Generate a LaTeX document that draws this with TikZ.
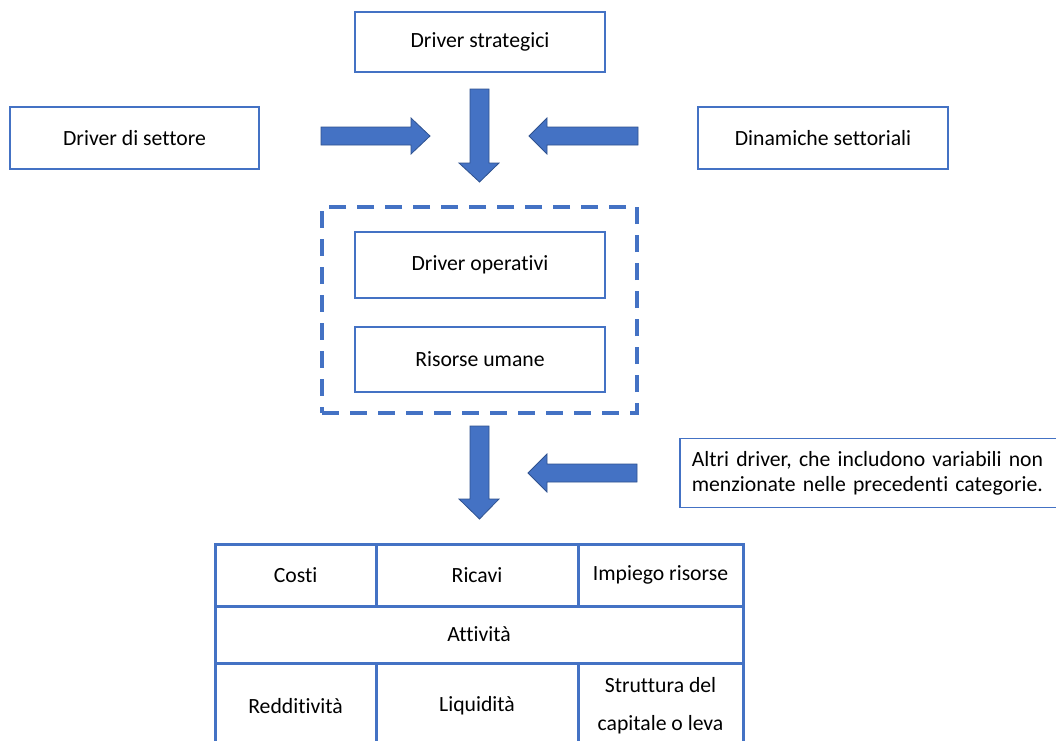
\documentclass[tikz,border=0pt]{standalone}
\usepackage{fontspec}
\setmainfont{Carlito}[Ligatures=NoCommon]
\definecolor{blu}{HTML}{4472C4}
\definecolor{bluedge}{HTML}{2F528F}

\begin{document}
\begin{tikzpicture}[x=1pt, y=-1pt,
	every node/.style={font=\fontsize{21.7}{25}\selectfont},
	box/.style={draw=blu, line width=1.5pt, minimum width=250pt, minimum height=62pt, inner sep=0pt},
	cell/.style={draw=blu, line width=3pt, inner sep=0pt},
	groupbox/.style={draw=blu, line width=4pt, dash pattern=on 17pt off 11pt, minimum width=315pt, minimum height=206pt},
	blkarrow/.style={fill=blu, draw=bluedge, line width=0.8pt, line join=miter}]
	\clip (0,0) rectangle (1056,740);
	\fill[white] (0,0) rectangle (1056,740);
	% caselle in alto
	\node[box, minimum height=60pt] (strat) at (480,42) {Driver strategici};
	\node[box, minimum width=249pt] (settore) at (134.5,138) {Driver di settore};
	\node[box] (dinamiche) at (823,138) {Dinamiche settoriali};
	\fill[blkarrow] (321,127) -- (411,127) -- (411,118) -- (430,136) -- (411,154) -- (411,145) -- (321,145) -- cycle;
	\fill[blkarrow] (470,89) -- (489,89) -- (489,163) -- (499,163) -- (479.5,182) -- (459,163) -- (470,163) -- cycle;
	\fill[blkarrow] (638,127) -- (547,127) -- (547,118) -- (529,136) -- (547,154) -- (547,145) -- (638,145) -- cycle;
	% gruppo tratteggiato
	\node[groupbox] (gruppo) at (479.5,310) {};
	\node[box, minimum height=66pt] (operativi) at (480,265) {Driver operativi};
	\node[box, minimum height=65pt] (umane) at (480,359.5) {Risorse umane};
	\fill[blkarrow] (470,426) -- (489,426) -- (489,499) -- (499,499) -- (479.5,519) -- (459,499) -- (470,499) -- cycle;
	\fill[blkarrow] (637,464) -- (547,464) -- (547,454) -- (528,473) -- (547,492) -- (547,482) -- (637,482) -- cycle;
	\node[box, anchor=west, minimum width=400pt, minimum height=69pt, inner xsep=12pt, text width=376pt, align=left] (altri) at (679,473)
		{\makebox[265pt][s]{Altri driver, che includono variabili non}\\\makebox[265pt][s]{menzionate nelle precedenti categorie.}};
	% tabella
	\node[cell, minimum width=161pt, minimum height=62pt] (costi) at (295.5,575) {Costi};
	\node[cell, minimum width=202pt, minimum height=62pt] (ricavi) at (477,575) {Ricavi};
	\node[cell, minimum width=165pt, minimum height=62pt] (impiego) at (660.5,575) {Impiego risorse};
	\node[cell, minimum width=528pt, minimum height=57pt] (attivita) at (479,634.5) {Attività};
	\node[cell, minimum width=161pt, minimum height=86pt] (redd) at (295.5,706) {Redditività};
	\node[cell, minimum width=202pt, minimum height=86pt] (liquid) at (477,706) {Liquidità};
	\node[cell, minimum width=165pt, minimum height=86pt, align=center, font=\fontsize{21.7}{38}\selectfont] (struttura) at (660.5,706) {Struttura del\\capitale o leva};
\end{tikzpicture}
\end{document}
